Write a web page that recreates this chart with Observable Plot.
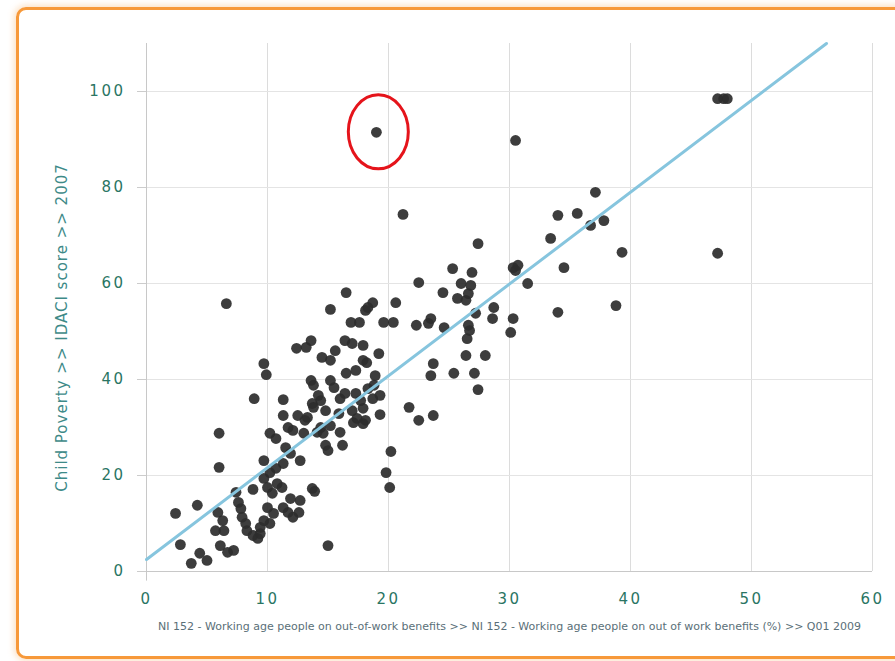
<!DOCTYPE html>
<html>
<head>
<meta charset="utf-8">
<script src="https://cdn.jsdelivr.net/npm/d3@7"></script>
<script src="https://cdn.jsdelivr.net/npm/@observablehq/plot@0.6"></script>
<style>
  html, body { margin: 0; padding: 0; background: #fff; overflow: hidden; }
  #wrap { position: relative; width: 895px; height: 661px; }
  #border { position: absolute; left: 16px; top: 7px; width: 900px; height: 646px;
    border: 3px solid #f7993a; border-radius: 10px;
    box-shadow: 0 0 6px 2px rgba(247,170,90,0.35); }
  #chart { position: absolute; left: 0; top: 0; }
  #chart svg g[aria-label="y-axis tick label"] text,
  #chart svg g[aria-label="x-axis tick label"] text { letter-spacing: 2.5px; }
</style>
</head>
<body>
<div id="wrap"><div id="border"></div><div id="chart"></div></div>
<script>
const xValues = [2.4,2.8,3.7,4.2,4.4,5.0,6.0,6.0,6.6,5.9,6.3,5.7,6.4,6.1,6.7,7.2,7.4,7.6,7.8,7.9,8.2,8.3,8.8,8.9,8.8,
  9.2,9.4,9.7,9.7,10.2,10.7,10.0,10.4,10.8,11.2,10.0,10.5,9.7,10.2,9.4,11.3,11.7,12.1,12.6,9.7,9.9,10.2,10.7,11.5,11.9,
  11.3,12.7,11.3,11.7,12.1,12.5,12.4,13.0,12.7,11.9,13.2,13.6,13.7,13.9,14.1,14.6,14.8,15.0,15.0,13.6,13.8,14.2,13.7,
  14.5,15.2,15.6,15.2,16.4,17.0,16.9,16.5,15.2,15.5,16.5,16.0,16.4,15.9,14.8,15.2,16.0,16.2,13.1,17.3,17.9,17.3,17.7,
  18.3,18.8,17.9,18.1,19.3,18.7,17.0,17.4,18.2,19.2,18.1,18.7,19.6,20.4,20.6,19.0,20.2,19.8,20.1,21.2,21.7,19.3,18.9,
  22.5,23.7,22.5,22.3,23.3,23.5,24.6,23.7,23.5,25.4,24.5,25.3,26.9,27.4,26.0,26.8,25.7,26.4,26.6,27.2,26.6,26.7,26.5,
  26.4,28.0,27.1,27.4,28.7,28.6,30.3,30.1,30.3,30.7,30.5,31.5,30.5,33.4,34.0,35.6,34.5,34.0,37.1,36.7,37.8,39.3,47.2,
  38.8,47.2,47.7,48.0,17.6,18.3,17.9,14.4,13.8,11.3,13.3,17.9,14.4,17.1];
const yValues = [12.1,5.6,1.7,13.8,3.8,2.3,28.8,21.7,55.8,12.3,10.6,8.5,8.5,5.4,4.0,4.4,16.5,14.4,13.1,11.3,10.0,8.5,7.5,36.0,17.1,
  6.9,7.9,23.1,19.4,20.6,21.5,17.5,16.3,18.3,17.5,13.3,12.1,10.6,10.0,9.2,13.3,12.3,11.3,12.3,43.3,41.0,28.8,27.7,25.8,24.6,
  22.5,23.1,35.8,30.0,29.4,32.5,46.5,28.8,14.8,15.2,46.7,48.1,17.3,16.7,29.0,28.8,26.3,25.2,5.4,39.8,38.8,36.7,35.0,
  44.6,44.0,46.0,54.6,48.1,47.5,51.9,58.1,39.8,38.3,41.3,36.0,37.1,32.9,33.5,30.4,29.0,26.3,31.5,41.9,47.1,37.1,35.6,
  38.1,38.8,34.0,31.5,32.7,36.0,33.5,31.9,43.5,45.4,54.4,56.0,51.9,51.9,56.0,91.5,25.0,20.6,17.5,74.4,34.2,36.7,40.8,
  31.5,32.5,60.2,51.3,51.7,52.7,50.8,43.3,40.8,41.3,58.1,63.1,62.3,68.3,60.0,59.6,56.9,56.5,57.9,53.8,51.3,50.2,48.5,
  45.0,45.0,41.3,37.9,55.0,52.7,52.7,49.8,63.3,63.8,62.7,60.0,89.8,69.4,74.2,74.6,63.3,54.0,79.0,72.1,73.1,66.5,66.3,
  55.4,98.5,98.5,98.5,51.9,55.0,44.0,35.6,34.2,32.5,32.1,30.8,30.0,31.0];
const trendX = [0, 56.2];
const trendY = [2.5, 110];
const xTicks = [0, 10, 20, 30, 40, 50, 60];
const yTicks = [0, 20, 40, 60, 80, 100];
const highlight = {x: 19.2, y: 91.5};
const xLabel = "NI 152 - Working age people on out-of-work benefits >> NI 152 - Working age people on out of work benefits (%) >> Q01 2009";
const yLabel = "Child Poverty >> IDACI score >> 2007";

const points = xValues.map((x, i) => ({x, y: yValues[i]}));
const trend = trendX.map((x, i) => ({x, y: trendY[i]}));

const chart = Plot.plot({
  width: 895,
  height: 661,
  marginLeft: 146,
  marginRight: 23,
  marginTop: 43,
  marginBottom: 90,
  style: {fontFamily: "DejaVu Sans, Verdana, sans-serif", background: "transparent", overflow: "visible"},
  x: {domain: [0, 60]},
  y: {domain: [0, 110]},
  marks: [
    Plot.gridX(xTicks.filter(d => d > 0), {stroke: "#dcdcdc", strokeOpacity: 1}),
    Plot.gridY(yTicks.filter(d => d > 0), {stroke: "#e4e4e4", strokeOpacity: 1}),
    Plot.ruleX([0], {stroke: "#c8c8c8", y1: -2, y2: 110}),
    Plot.ruleY([0], {stroke: "#c8c8c8", x1: 0, x2: 60}),
    Plot.axisY(yTicks, {tickSize: 9, tickPadding: 12, stroke: "#cccccc", fill: "#2a7563", fontSize: 15, label: null, tickFormat: d => d}),
    Plot.axisX(xTicks, {tickSize: 0, tickPadding: 22, fill: "#2a7563", fontSize: 15, label: null, tickFormat: d => d}),
    Plot.dot(points, {x: "x", y: "y", r: 5.4, fill: "#2d2d2d", fillOpacity: 0.92, stroke: "none"}),
    Plot.line(trend, {x: "x", y: "y", stroke: "#86c5de", strokeWidth: 3}),
    Plot.text([xLabel], {frameAnchor: "bottom", dy: 58, fontSize: 11, fill: "#5a6f78", text: d => d}),
    Plot.text([yLabel], {frameAnchor: "left", textAnchor: "middle", rotate: -90, dx: -84, dy: 20, fontSize: 15, fill: "#3e8a88", text: d => d})
  ]
});
// annotation ellipse around the highlighted outlier, positioned via the plot's scales
const sx = chart.scale("x"), sy = chart.scale("y");
d3.select(chart).append("ellipse")
  .attr("cx", sx.apply(highlight.x))
  .attr("cy", sy.apply(highlight.y))
  .attr("rx", 30)
  .attr("ry", 37)
  .attr("fill", "none")
  .attr("stroke", "#e5141b")
  .attr("stroke-width", 3);
d3.select(chart).selectAll('g[aria-label="text"] text').filter(function() { return this.textContent === yLabel; })
  .style("letter-spacing", "1px");
document.getElementById("chart").appendChild(chart);
</script>
</body>
</html>
